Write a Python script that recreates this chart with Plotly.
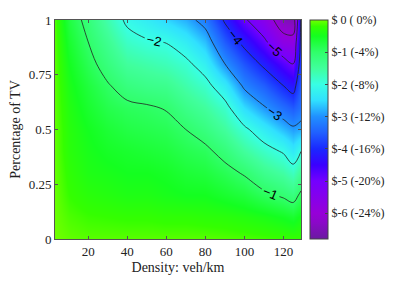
import plotly.graph_objects as go

density = [3, 10, 20, 30, 40, 50, 60, 70, 80, 90, 100, 110, 120, 125, 129]
tv_share = [0, 0.1, 0.2, 0.3, 0.4, 0.5, 0.6, 0.7, 0.8, 0.9, 1.0]

# saving in $ per column of density (rows follow tv_share)
col_3 = [0, -0.02, -0.03, -0.04, -0.05, -0.05, -0.06, -0.07, -0.08, -0.1, -0.12]
col_10 = [-0.05, -0.12, -0.2, -0.25, -0.3, -0.32, -0.36, -0.42, -0.5, -0.6, -0.72]
col_20 = [-0.08, -0.18, -0.3, -0.4, -0.45, -0.5, -0.6, -0.7, -0.85, -1.0, -1.15]
col_30 = [-0.08, -0.2, -0.35, -0.45, -0.55, -0.65, -0.8, -0.96, -1.2, -1.4, -1.63]
col_40 = [-0.08, -0.22, -0.4, -0.5, -0.6, -0.75, -0.9, -1.2, -1.5, -1.8, -2.1]
col_50 = [-0.08, -0.22, -0.4, -0.5, -0.65, -0.8, -0.95, -1.3, -1.6, -1.95, -2.3]
col_60 = [-0.08, -0.25, -0.45, -0.55, -0.7, -0.85, -1.03, -1.35, -1.7, -2.02, -2.55]
col_70 = [-0.08, -0.25, -0.5, -0.65, -0.82, -1.0, -1.3, -1.6, -1.88, -2.3, -2.8]
col_80 = [-0.08, -0.28, -0.5, -0.7, -0.9, -1.2, -1.5, -1.83, -2.25, -2.7, -3.2]
col_90 = [-0.1, -0.3, -0.6, -0.85, -1.15, -1.5, -1.83, -2.33, -3.0, -3.55, -4.08]
col_100 = [-0.12, -0.35, -0.7, -1.04, -1.5, -1.9, -2.5, -3.1, -3.6, -4.17, -4.9]
col_110 = [-0.15, -0.42, -0.9, -1.35, -1.8, -2.3, -2.95, -3.5, -4.12, -4.85, -5.55]
col_120 = [-0.18, -0.52, -1.07, -1.55, -2.05, -2.7, -3.35, -4.0, -4.7, -5.7, -6.45]
col_125 = [-0.2, -0.6, -1.2, -1.75, -2.35, -2.9, -3.55, -4.25, -5.0, -5.75, -6.5]
col_129 = [-0.2, -0.45, -0.9, -1.4, -2.0, -2.8, -3.3, -3.5, -3.7, -3.8, -3.9]

columns = [col_3, col_10, col_20, col_30, col_40, col_50, col_60, col_70,
           col_80, col_90, col_100, col_110, col_120, col_125, col_129]

cbar_vals = [0, -1, -2, -3, -4, -5, -6]
cbar_text = ["$ 0 ( 0%)", "$-1 (-4%)", "$-2 (-8%)", "$-3 (-12%)",
             "$-4 (-16%)", "$-5 (-20%)", "$-6 (-24%)"]
x_ticks = [20, 40, 60, 80, 100, 120]
y_ticks = [0, 0.25, 0.5, 0.75, 1]
y_ticktext = ["0", "0.25", "0.5", "0.75", "1"]

z = [[columns[j][i] for j in range(len(density))] for i in range(len(tv_share))]

SERIF = "Times New Roman, Liberation Serif, serif"

zmin, zmax = -6.8, 0.0
stops = [(-6.8, "#6a1aa0"), (-6.3, "#8a08c8"), (-6.0, "#9600d8"), (-5.0, "#7400ff"),
         (-4.5, "#3a00ff"), (-4.0, "#1a28ff"), (-3.5, "#2060ff"), (-3.0, "#2090ff"),
         (-2.5, "#30e0ff"), (-2.0, "#38ffe4"), (-1.5, "#40ff9c"), (-1.0, "#30ff6a"),
         (-0.5, "#14ff20"), (-0.2, "#34ff00"), (0.0, "#70ff00")]
colorscale = [[(v - zmin) / (zmax - zmin), c] for v, c in stops]

fig = go.Figure()
fig.add_trace(go.Heatmap(
    x=density, y=tv_share, z=z, zmin=zmin, zmax=zmax, zsmooth="best",
    colorscale=colorscale,
    colorbar=dict(
        x=(310 - 55) / 246, xanchor="left", xpad=0, y=0.5, yanchor="middle",
        len=1, lenmode="fraction", ypad=0, thickness=18,
        outlinewidth=1, outlinecolor="#444",
        tickvals=cbar_vals, ticktext=cbar_text, ticks="inside", ticklen=3,
        tickcolor="#444",
        tickfont=dict(family=SERIF, size=12, color="#222"),
    ),
    hoverinfo="skip",
))
fig.add_trace(go.Contour(
    x=density, y=tv_share, z=z, showscale=False,
    contours=dict(start=-6, end=-1, size=1, coloring="none", showlabels=True,
                  labelfont=dict(family="Liberation Sans, Arial, sans-serif", size=13, color="black")),
    line=dict(color="#222", width=0.8), hoverinfo="skip",
))

axis_common = dict(showline=True, linecolor="#555", linewidth=1, mirror="ticks",
                   ticks="inside", ticklen=3, tickcolor="#555", showgrid=False,
                   zeroline=False, automargin=False,
                   tickfont=dict(family=SERIF, size=13, color="#222"))
fig.update_xaxes(range=[3, 129], tickvals=x_ticks,
                 title=dict(text="Density: veh/km", standoff=4,
                            font=dict(family=SERIF, size=14, color="#222")),
                 **axis_common)
fig.update_yaxes(range=[0, 1], tickvals=y_ticks, ticktext=y_ticktext,
                 title=dict(text="Percentage of TV", standoff=4,
                            font=dict(family=SERIF, size=14, color="#222")),
                 **axis_common)
# page body has an 8px margin; figure sized so the plot lands where the reference has it
fig.update_layout(width=400, height=268,
                  margin=dict(l=47, r=107, t=12, b=37, autoexpand=False),
                  paper_bgcolor="white", plot_bgcolor="white", showlegend=False)
fig.write_html("out.html")
